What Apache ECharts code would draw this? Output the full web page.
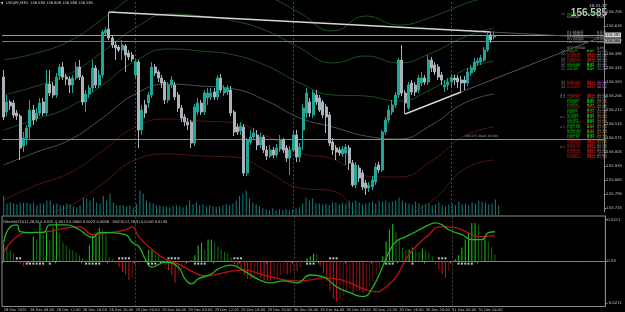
<!DOCTYPE html>
<html><head><meta charset="utf-8">
<script src="https://cdn.jsdelivr.net/npm/echarts@6/dist/echarts.min.js"></script>
<style>html,body{margin:0;padding:0;background:#000;overflow:hidden}#c{width:625px;height:312px}</style>
</head><body><div id="c"></div>
<script>
// ---------- DATA ----------
const tickLabels = ["26 Dec 2025","26 Dec 08:00","26 Dec 12:00","26 Dec 16:00","26 Dec 20:00","29 Dec 00:00","29 Dec 04:00","29 Dec 08:00","29 Dec 12:00","29 Dec 16:00","29 Dec 20:00","30 Dec 00:00","30 Dec 04:00","30 Dec 08:00","30 Dec 12:00","30 Dec 16:00","30 Dec 20:00","31 Dec 00:00","31 Dec 04:00"];
// [open, close, low, high]
const candles = [
[156.38,156.18,156.165,156.415],[156.205,156.255,156.185,156.29],[156.255,156.235,156.215,156.265],[156.25,156.19,156.175,156.265],[156.2,156.185,156.165,156.215],
[156.185,156.025,155.965,156.195],[156.035,156.075,156.005,156.105],[156.075,156.125,156.04,156.14],[156.13,156.215,156.065,156.265],[156.215,156.165,156.14,156.24],
[156.17,156.2,156.155,156.225],[156.2,156.25,156.185,156.275],[156.255,156.2,156.185,156.275],[156.2,156.345,156.185,156.415],[156.345,156.3,156.285,156.415],
[156.335,156.29,156.275,156.355],[156.29,156.38,156.275,156.4],[156.385,156.43,156.365,156.445],[156.43,156.38,156.365,156.455],[156.38,156.37,156.34,156.395],
[156.37,156.34,156.3,156.385],[156.34,156.375,156.3,156.39],[156.375,156.43,156.365,156.455],[156.43,156.38,156.365,156.465],[156.38,156.255,156.24,156.39],
[156.255,156.295,156.205,156.315],[156.295,156.325,156.275,156.34],[156.325,156.425,156.305,156.465],[156.425,156.34,156.325,156.44],[156.34,156.39,156.325,156.415],
[156.39,156.605,156.375,156.615],[156.6,156.615,156.585,156.63],[156.62,156.575,156.565,156.705],[156.575,156.54,156.525,156.59],[156.54,156.525,156.465,156.555],
[156.53,156.515,156.505,156.54],[156.515,156.54,156.465,156.565],[156.535,156.49,156.405,156.545],[156.5,156.48,156.465,156.515],[156.49,156.47,156.455,156.505],
[156.39,156.455,156.375,156.465],[156.455,156.115,156.025,156.465],[156.115,156.215,156.09,156.24],[156.24,156.2,156.175,156.265],[156.25,156.29,156.225,156.305],
[156.29,156.43,156.275,156.455],[156.43,156.4,156.385,156.445],[156.405,156.375,156.355,156.415],[156.375,156.35,156.325,156.39],[156.355,156.265,156.245,156.365],
[156.265,156.34,156.25,156.355],[156.34,156.365,156.325,156.385],[156.34,156.28,156.265,156.355],[156.29,156.225,156.205,156.305],[156.225,156.175,156.155,156.24],
[156.18,156.155,156.135,156.195],[156.155,156.14,156.115,156.175],[156.155,156.05,156.025,156.165],[156.05,156.23,156.035,156.245],[156.205,156.25,156.19,156.275],
[156.25,156.205,156.19,156.265],[156.205,156.3,156.19,156.315],[156.275,156.3,156.24,156.325],[156.28,156.3,156.265,156.325],[156.305,156.28,156.265,156.325],
[156.28,156.375,156.265,156.39],[156.375,156.315,156.3,156.395],[156.3,156.325,156.285,156.34],[156.305,156.325,156.29,156.34],[156.315,156.2,156.185,156.335],
[156.205,156.105,156.085,156.215],[156.13,156.105,156.09,156.145],[156.11,156.135,156.09,156.155],[156.13,155.9,155.885,156.145],[155.9,156.065,155.885,156.075],
[156.055,156.08,156.04,156.115],[156.08,156.1,156.065,156.125],[156.09,156.04,156.015,156.115],[156.04,156.08,156.025,156.1],[156.08,156.015,156.0,156.09],
[156.015,155.985,155.965,156.035],[155.985,156.015,155.975,156.04],[156.015,155.99,155.975,156.03],[155.99,156.025,155.98,156.045],[156.02,156.065,156.005,156.09],
[156.065,156.015,156.0,156.075],[156.025,155.975,155.955,156.04],[155.975,156.015,155.89,156.035],[156.015,156.09,156.005,156.115],[156.09,155.98,155.955,156.115],
[155.98,156.03,155.955,156.05],[156.115,156.225,156.015,156.245],[156.2,156.3,156.175,156.325],[156.255,156.2,156.18,156.275],[156.19,156.3,156.175,156.315],
[156.29,156.255,156.24,156.315],[156.275,156.215,156.205,156.29],[156.255,156.19,156.175,156.265],[156.23,156.18,156.1,156.245],[156.19,156.05,156.035,156.205],
[156.055,156.015,155.99,156.075],[156.025,156.005,155.965,156.04],[156.015,156.0,155.985,156.03],[155.995,156.02,155.98,156.035],[156.0,156.03,155.94,156.045],
[156.025,155.95,155.915,156.04],[155.95,155.84,155.83,155.965],[155.84,155.94,155.825,155.955],[155.925,155.875,155.855,155.94],[155.9,155.83,155.815,155.915],
[155.85,155.825,155.79,155.865],[155.825,155.84,155.805,155.855],[155.83,155.865,155.815,155.885],[155.855,155.93,155.84,155.95],[155.94,155.915,155.9,155.955],
[155.915,156.105,155.905,156.115],[156.105,156.165,156.09,156.18],[156.165,156.215,156.15,156.24],[156.205,156.24,156.19,156.265],[156.24,156.29,156.225,156.305],
[156.29,156.465,156.275,156.475],[156.465,156.3,156.285,156.54],[156.3,156.25,156.195,156.315],[156.225,156.34,156.215,156.355],[156.35,156.305,156.29,156.365],
[156.34,156.305,156.285,156.355],[156.315,156.375,156.3,156.39],[156.35,156.375,156.335,156.405],[156.375,156.355,156.34,156.39],[156.355,156.465,156.34,156.49],
[156.465,156.425,156.405,156.48],[156.44,156.405,156.39,156.455],[156.43,156.38,156.365,156.445],[156.39,156.365,156.34,156.405],[156.33,156.34,156.305,156.365],
[156.34,156.355,156.315,156.375],[156.355,156.375,156.325,156.395],[156.375,156.365,156.34,156.39],[156.375,156.355,156.325,156.39],[156.365,156.35,156.305,156.385],
[156.365,156.35,156.315,156.385],[156.35,156.405,156.335,156.425],[156.4,156.425,156.385,156.44],[156.415,156.455,156.405,156.475],[156.45,156.46,156.435,156.475],
[156.455,156.475,156.44,156.49],[156.465,156.515,156.455,156.53],[156.515,156.59,156.505,156.6],[156.59,156.565,156.55,156.605],[156.58,156.585,156.568,156.608]
];
const volumes = [
2000,1200,1300,1200,1100,1300,1300,1300,1200,1300, 1000,1200,1200,1500,1500,1100,1200,1000,1000,1200,
1100,900,800,1000,1800,1700,1500,1800,1300,1200, 2000,1500,2200,1300,1000,1000,1000,900,1000,800,
1100,2500,2200,1500,1300,1200,1000,1000,900,900, 800,900,1000,900,800,1000,1500,1100,1300,1000,
1100,900,1000,900,800,900,1000,1100,1000,1200, 1500,2000,2200,2500,1700,1300,1100,900,700,600,
500,700,500,600,500,600,500,600,700,800, 1200,1800,1500,1700,1200,1200,1100,1200,1000,1300,
1300,1100,1300,1200,1500,1300,1500,1300,1100,1200, 1300,1400,1200,1500,1400,1500,1300,1400,1500,1800,
1500,1300,1200,1100,1400,1200,1000,1100,1200,1000, 1100,1300,1000,900,1100,1200,1000,1400,1100,1200,
1000,1300,1200,1500,1400,1300,1100,1200,1600,1000];
const macdHist = [
.009,.0075,.006,.004,.002,-.0015,-.0025,-.0015,-.0005,.0125, .011,.02,.0135,.0145,.0105,.017,.0195,.0145,.0095,.008,
.006,.0055,.0045,.003,.0015,.001,.008,.013,.013,.017, .016,.0135,.002,.001,-.001,-.003,-.0055,-.007,-.0095,-.0085,
-.003,-.0015,-.0005,.001,.006,.006,.0035,.003,.001,-.002, -.0045,-.007,-.011,-.007,-.004,-.002,-.001,.0005,.003,.008,
.0095,.006,.011,.011,.0095,.0075,.006,.005,.004,.002, -.0015,-.003,-.004,-.007,-.009,-.009,-.008,-.0075,-.0085,-.0095,
-.01,-.01,-.0095,-.0085,-.007,-.006,-.0065,-.006,-.005,-.005, -.003,-.001,.0015,.0025,.004,.0035,-.0025,-.006,-.01,-.015,
-.019,-.0205,-.02,-.0175,-.015,-.014,-.016,-.015,-.015,-.016, -.015,-.0125,-.01,-.007,-.004,.0025,.01,.016,.019,.015,
.011,.007,.006,.006,.007,.006,.005,.0065,.0055,.0045, .0025,-.0015,-.004,-.0065,-.0085,-.005,-.0015,.001,.003,.007,
.011,.0145,.0195,.0195,.0185,.011,.0115,.01,.007,.0035];
const macdMainIdx = [0,2,4,5,8,12,14,19,23,25,27,29,32,37,39,41,43,45,49,53,55,57,59,63,65,69,73,77,81,85,89,93,97,101,105,109,112,115,117,119,122,125,129,131,133,135,139,142,145,147,149];
const macdMainVal = [.0095,.0175,.0185,.015,.0145,.0145,.0185,.0185,.016,.0135,.012,.0145,.0145,.0135,.0095,.0075,.001,-.003,-.0005,-.003,-.009,-.0115,-.009,-.0065,-.004,-.002,-.005,-.009,-.011,-.01,-.011,-.007,-.008,-.013,-.016,-.018,-.013,-.0025,.005,.01,.0125,.015,.0185,.0195,.0185,.016,.0135,.011,.011,.0145,.015];
const macdSigIdx = [0,3,7,13,19,23,27,32,37,39,41,45,49,53,57,61,65,69,73,77,81,85,89,93,97,101,105,109,113,116,119,122,125,129,132,135,139,144,149];
const macdSigVal = [.0045,.011,.0145,.015,.017,.0175,.0135,.0145,.016,.0175,.0125,.006,.001,-.0015,-.005,-.0075,-.0065,-.005,-.0045,-.006,-.008,-.0095,-.01,-.0095,-.0085,-.009,-.011,-.014,-.0155,-.013,-.008,.001,.0075,.0135,.0175,.0175,.016,.0125,.013];
const dotsAboveIdx = [4,5,35,36,37,38,50,51,52,53,70,71,72,99,100,101,132,133,134];
const dotsBelowIdx = [7,8,9,10,11,12,14,25,26,27,28,29,44,45,46,58,59,60,61,92,93,94,116,117,118,124,138,139,140,141,142];
const bandIdx = [0,10,20,30,40,50,60,70,80,90,100,110,120,130,140,149];
const bandMA = [155.94,156.005,156.065,156.175,156.295,156.345,156.335,156.32,156.26,156.175,156.13,156.085,156.07,156.14,156.25,156.295];
const bandG1 = [156.115,156.17,156.23,156.34,156.46,156.52,156.51,156.49,156.435,156.35,156.29,156.285,156.26,156.32,156.415,156.46];
const bandG2 = [156.29,156.335,156.395,156.505,156.625,156.695,156.685,156.66,156.61,156.525,156.45,156.485,156.45,156.5,156.58,156.625];
const bandG3 = [156.465,156.5,156.56,156.67,156.79,156.87,156.86,156.83,156.785,156.7,156.61,156.685,156.64,156.68,156.745,156.79];
const bandR1 = [155.765,155.84,155.9,156.01,156.13,156.17,156.16,156.15,156.085,156.0,155.97,155.885,155.88,155.96,156.085,156.13];
const bandR2 = [155.59,155.675,155.735,155.845,155.965,155.995,155.985,155.98,155.91,155.825,155.81,155.685,155.69,155.76,155.92,155.965];
const priceTicks = [156.705,156.635,156.565,156.495,156.425,156.355,156.285,156.215,156.145,156.075,156.005,155.935,155.865,155.795,155.725];
const macdTicks = [-0.0211,0,0.0211];
const daySeparators = [40,88,136];
const trendLines = [[32,156.705,148,156.605],[122,156.195,139,156.305]];
const bidPrice = 156.585, askPrice = 156.560, dayOpenPrice = 156.075;
const titleText = "USDJPY,M30  156.580 156.608 156.568 156.585";
const macdTitle = "FilterMACD(12,26,9) 0.0103 -0.0013 0.0000 0.0023 0.0008   MACD(12,26,9) 0.0150 0.0130";
const clockText = "18:41:37";
const bigPrice = "156.585";
// info panel rows: [y, num, label, labelColor, signal, signalColor, value, valueColor]
const infoRows = [
[14,'11','USDJPY','g','0:01','g','31.1%','w'],[17,'','SPREAD','w','','','0.00','w'],
[32,'','H1 RANGE','w','','','0.073','w'],[34.5,'','H4 RANGE','w','','','0.073','w'],[37,'','D1 RANGE','w','','','0.083','w'],[39.5,'','W1 RANGE','w','','','0.095','w'],[42,'','MN POSITION','w','','','0.198','w'],
[48,'','RTD TREND','w','','','0.0%','w'],
[51.5,'12','EURJPY','g','BUY','g','31.1%','w'],[54,'22','EURAUD','r','SELL','r','22.1%','w'],[56.5,'','AUDNZD','r','SELL','r','21.1%','w'],[59,'13','EURNZD','r','SELL','r','32.1%','w'],
[61.5,'11','GBPAUD','r','SELL','r','31.1%','w'],[64,'13','USDCAD','g','BUY','g','31.1%','w'],[66.5,'11','USDCHF','g','BUY','g','31.1%','w'],[69,'11','USDJPY','g','BUY','g','31.1%','w'],
[82,'13','EURUSD','r','SELL','r','40.2%','p'],[84.5,'11','GBPUSD','r','SELL','r','40.2%','p'],[87,'12','AUDUSD','r','SELL','r','40.1%','w'],
[95,'4 1','AUDUSD','r','SELL','r','41.1%','w'],[97.5,'4 5','GBPCHF','r','SELL','r','41.1%','w'],[100,'','USDCHF','g','BUY','g','34.1%','w'],[102.5,'','CADJPY','g','BUY','g','51.1%','o'],
[105,'','CHFJPY','g','BUY','g','31.1%','w'],[107.5,'','EURGBP','r','SELL','r','41.2%','w'],[110,'','GBPJPY','g','BUY','g','31.1%','w'],[112.5,'','EURJPY','g','BUY','r','61.1%','o'],
[115,'','NZDJPY','g','BUY','g','31.1%','w'],[117.5,'4 1','AUDJPY','g','BUY','g','31.1%','w'],[120,'','USDJPY','g','BUY','g','51.1%','o'],[122.5,'','USDCAD','g','BUY','g','31.1%','w'],
[125,'','GBPCAD','g','BUY','r','31.1%','w'],[127.5,'4 1','EURCAD','g','BUY','g','61.1%','o'],[130,'','NZDCAD','g','BUY','r','31.1%','w'],[132.5,'','AUDCAD','g','BUY','g','61.2%','o'],
[135,'','CADCHF','g','BUY','g','31.1%','w'],[137.5,'','EURCHF','g','BUY','g','61.1%','o'],[140,'','NZDUSD','r','SELL','r','41.1%','w'],[142.5,'','GBPNZD','r','SELL','r','61.1%','o'],
[145,'','AUDCHF','r','SELL','r','41.1%','w'],[147.5,'4 1','NZDCHF','r','SELL','r','41.1%','w'],[150,'','GBPAUD','r','SELL','r','41.1%','w'],[152.5,'','NZDCAD','r','SELL','r','51.1%','w'],
[155,'','NZDJPY','r','SELL','r','45.0%','w'],[157.5,'','AUDNZD','r','SELL','r','61.1%','o']
];
// ---------- CHART ----------
const COL = {g:'#17c417', r:'#c81c1c', w:'#a4a4a4', o:'#e2891a', p:'#b84fd8'};
const nCat = 183;
const categories = Array.from({length:nCat}, (_, i) => String(i));
const pairData = (idx, vals) => idx.map((ix, k) => [ix, vals[k]]);
const GL = 2, GR = 15;

const histData = macdHist.map((v, i) => {
  const prev = i > 0 ? macdHist[i-1] : 0;
  let c;
  if (v >= 0) c = v >= prev ? '#1fc81f' : '#0d6e0d';
  else c = v <= prev ? '#c81616' : '#701010';
  return {value: v, itemStyle: {color: c}};
});

function bandSeries(vals, color) {
  return {type:'line', xAxisIndex:0, yAxisIndex:0, data: pairData(bandIdx, vals), smooth:true, symbol:'none',
    lineStyle:{color, width:1}, silent:true, z:1};
}
const trendMark = [];
trendLines.forEach(t => {
  const [x1,y1,x2,y2] = t;
  trendMark.push([{coord:[x1,y1], lineStyle:{color:'#d6d6d6', width:1.4, type:'solid'}, label:{show:false}},{coord:[x2,y2]}]);
  const yExt = y2 + (y2 - y1) / (x2 - x1) * (nCat - 1 - x2);
  trendMark.push([{coord:[x2,y2], lineStyle:{color:'#555555', width:1, type:'solid'}, label:{show:false}},{coord:[nCat-1,yExt]}]);
});

const graphics = [];
graphics.push({type:'text', x:1, y:3, style:{text:'▼', fill:'#ddd', font:'3px "DejaVu Sans"', textVerticalAlign:'middle'}});
graphics.push({type:'text', x:6, y:3.5, style:{text:titleText, fill:'#d8d8d8', font:'3.6px "DejaVu Sans"', textVerticalAlign:'middle'}});
graphics.push({type:'text', x:3, y:222.5, style:{text:macdTitle, fill:'#d0d0d0', font:'3.6px "DejaVu Sans"', textVerticalAlign:'middle'}});
graphics.push({type:'text', x:607, y:5.5, style:{text:clockText, fill:'#c8c8c8', font:'4px "DejaVu Sans"', textAlign:'right', textVerticalAlign:'middle'}});
graphics.push({type:'text', x:607, y:13, style:{text:bigPrice, fill:'#c4c4c4', font:'bold 10px "Liberation Sans"', textAlign:'right', textVerticalAlign:'middle'}});
infoRows.forEach(r => {
  const [y,num,lab,lc,sig,sc,val,vc] = r;
  const f = '3.2px "DejaVu Sans"';
  if (num) graphics.push({type:'text', x:565, y, style:{text:num, fill:'#9a9a9a', font:f, textAlign:'right', textVerticalAlign:'middle'}});
  graphics.push({type:'text', x:567, y, style:{text:lab, fill:COL[lc], font:f, textVerticalAlign:'middle'}});
  if (sig) graphics.push({type:'text', x:587, y, style:{text:sig, fill:COL[sc], font:'bold 3.2px "DejaVu Sans"', textVerticalAlign:'middle'}});
  graphics.push({type:'text', x:597, y, style:{text:val, fill:COL[vc], font:f, textVerticalAlign:'middle'}});
});

const option = {
  backgroundColor:'#000',
  animation:false,
  grid:[
    {left:GL, right:GR, top:0, height:212},
    {left:GL, right:GR, top:186, height:29},
    {left:GL, right:GR, top:216, height:92, show:true, borderColor:'#8c8c8c', borderWidth:1, backgroundColor:'transparent'}
  ],
  xAxis:[
    {type:'category', gridIndex:0, data:categories, boundaryGap:true, axisLine:{show:false}, axisTick:{show:false}, axisLabel:{show:false}, splitLine:{show:false}},
    {type:'category', gridIndex:1, data:categories, boundaryGap:true, show:false},
    {type:'category', gridIndex:2, data:categories, boundaryGap:true,
      axisLine:{show:true, lineStyle:{color:'#8c8c8c'}},
      axisTick:{show:true, length:2, interval:(i)=> i % 8 === 0 && i/8 < tickLabels.length, lineStyle:{color:'#8c8c8c'}},
      axisLabel:{show:true, interval:(i)=> i % 8 === 0 && i/8 < tickLabels.length, formatter:(v,i)=> tickLabels[i/8] || '',
        color:'#c0c0c0', fontSize:3.6, fontFamily:'DejaVu Sans', align:'left', margin:1.5},
      splitLine:{show:false}}
  ],
  yAxis:[
    {type:'value', gridIndex:0, position:'right', min:155.705, max:156.765,
      axisLine:{show:true, lineStyle:{color:'#8c8c8c'}}, axisTick:{show:true, length:2, customValues:priceTicks, lineStyle:{color:'#8c8c8c'}},
      axisLabel:{show:true, customValues:priceTicks, formatter:v=>v.toFixed(3), color:'#c0c0c0', fontSize:3.8, fontFamily:'DejaVu Sans', margin:2},
      splitLine:{show:false}},
    {type:'value', gridIndex:1, min:0, max:3000, show:false, splitLine:{show:false}},
    {type:'value', gridIndex:2, position:'right', min:-0.023, max:0.023,
      axisLine:{show:true, lineStyle:{color:'#8c8c8c'}}, axisTick:{show:true, length:2, customValues:macdTicks, lineStyle:{color:'#8c8c8c'}},
      axisLabel:{show:true, customValues:macdTicks, formatter:v=> v === 0 ? '0.00' : v.toFixed(4), color:'#c0c0c0', fontSize:3.8, fontFamily:'DejaVu Sans', margin:2},
      splitLine:{show:false}}
  ],
  graphic: graphics,
  series:[
    bandSeries(bandG3, '#1d4d1d'),
    bandSeries(bandG2, '#1d4d1d'),
    bandSeries(bandG1, '#1d4d1d'),
    bandSeries(bandMA, '#505050'),
    bandSeries(bandR1, '#4e1515'),
    bandSeries(bandR2, '#4e1515'),
    {type:'bar', xAxisIndex:1, yAxisIndex:1, data:volumes, barWidth:1, itemStyle:{color:'#11807f'}, silent:true, z:2},
    {type:'candlestick', xAxisIndex:0, yAxisIndex:0, data:candles, barWidth:2.5, z:5,
      itemStyle:{color:'#22a595', color0:'#aab3bb', borderColor:'#22a595', borderColor0:'#aab3bb', borderWidth:1},
      markLine:{silent:true, symbol:['none','none'], animation:false,
        data:[
          ...daySeparators.map(d => ({xAxis:d, lineStyle:{color:'#444444', type:[2,2], width:1}, label:{show:false}})),
          {yAxis:dayOpenPrice, lineStyle:{color:'#8a8a8a', type:'solid', width:1}, label:{show:false}},
          {yAxis:bidPrice, lineStyle:{color:'#9a9a9a', type:'solid', width:1}, label:{show:true, position:'end', distance:1, formatter:bidPrice.toFixed(3), color:'#000', backgroundColor:'#d8d8d8', fontSize:3.8, padding:[0.5,1]}},
          {yAxis:askPrice, lineStyle:{color:'#7a7a7a', type:'solid', width:1}, label:{show:true, position:'end', distance:1, formatter:askPrice.toFixed(3), color:'#000', backgroundColor:'#9c9c9c', fontSize:3.8, padding:[0.5,1]}},
          ...trendMark
        ]},
      markPoint:{silent:true, symbol:'circle', symbolSize:0.1, data:[{coord:[140, dayOpenPrice], label:{show:true, position:'right', distance:0, offset:[0,-1.8], formatter:dayOpenPrice.toFixed(3)+' (Open 00:00)', color:'#a0a0a0', fontSize:3, fontFamily:'DejaVu Sans'}}]}
    },
    {type:'bar', xAxisIndex:2, yAxisIndex:2, data:histData, barWidth:1, silent:true, z:2,
      markLine:{silent:true, symbol:['none','none'], animation:false, label:{show:false},
        data:[{yAxis:0, lineStyle:{color:'#6a6a6a', type:[1,2], width:1}},
          ...daySeparators.map(d => ({xAxis:d, lineStyle:{color:'#444444', type:[2,2], width:1}}))]}},
    {type:'line', xAxisIndex:2, yAxisIndex:2, data:pairData(macdSigIdx, macdSigVal), smooth:true, symbol:'none', lineStyle:{color:'#b81212', width:1.3}, z:3},
    {type:'line', xAxisIndex:2, yAxisIndex:2, data:pairData(macdMainIdx, macdMainVal), smooth:true, symbol:'none', lineStyle:{color:'#1fb51f', width:1.3}, z:4},
    {type:'scatter', xAxisIndex:2, yAxisIndex:2, data:dotsAboveIdx.map(i=>[i, 0.0015]), symbol:'rect', symbolSize:2, itemStyle:{color:'#f0f0f0'}, z:5},
    {type:'scatter', xAxisIndex:2, yAxisIndex:2, data:dotsBelowIdx.map(i=>[i, -0.0012]), symbol:'rect', symbolSize:2, itemStyle:{color:'#f0f0f0'}, z:5}
  ]
};
const chart = echarts.init(document.getElementById('c'), null, {renderer:'canvas', width:625, height:312});
chart.setOption(option);
</script>
</body></html>
